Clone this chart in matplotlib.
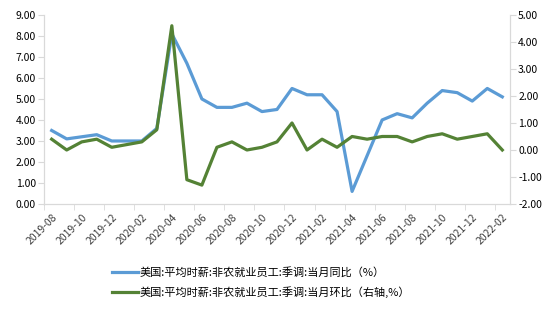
import numpy as np
import matplotlib
matplotlib.use('Agg')
import matplotlib.pyplot as plt

plt.rcParams['font.family'] = ['Noto Sans CJK SC', 'DejaVu Sans']

months = ["2019-08", "2019-09", "2019-10", "2019-11", "2019-12", "2020-01", "2020-02",
          "2020-03", "2020-04", "2020-05", "2020-06", "2020-07", "2020-08", "2020-09",
          "2020-10", "2020-11", "2020-12", "2021-01", "2021-02", "2021-03", "2021-04",
          "2021-05", "2021-06", "2021-07", "2021-08", "2021-09", "2021-10", "2021-11",
          "2021-12", "2022-01", "2022-02"]

# YoY (left axis)
yoy = [3.5, 3.1, 3.2, 3.3, 3.0, 3.0, 3.0, 3.6, 8.1, 6.7, 5.0, 4.6, 4.6, 4.8, 4.4, 4.5,
       5.5, 5.2, 5.2, 4.4, 0.6, 2.3, 4.0, 4.3, 4.1, 4.8, 5.4, 5.3, 4.9, 5.5, 5.1]
# MoM (right axis)
mom = [0.4, 0.0, 0.3, 0.4, 0.1, 0.2, 0.3, 0.75, 4.6, -1.1, -1.3, 0.1, 0.3, 0.0, 0.1, 0.3,
       1.0, 0.0, 0.4, 0.1, 0.5, 0.4, 0.5, 0.5, 0.3, 0.5, 0.6, 0.4, 0.5, 0.6, 0.0]

label_yoy = "美国:平均时薪:非农就业员工:季调:当月同比（%）"
label_mom = "美国:平均时薪:非农就业员工:季调:当月环比（右轴,%）"

blue = '#5B9BD5'
green = '#548235'
grey = '#D9D9D9'
txt = '#404040'

fig = plt.figure(figsize=(5.59, 3.11), dpi=100)
ax = fig.add_axes([0.079, 0.344, 0.833, 0.608])
ax2 = ax.twinx()

x = np.arange(len(months))
l1, = ax.plot(x, yoy, color=blue, lw=2.3, label=label_yoy)
l2, = ax2.plot(x, mom, color=green, lw=2.3, label=label_mom)
ax2.set_zorder(ax.get_zorder() + 1)
ax2.patch.set_visible(False)

ax.set_xlim(-0.5, len(months) - 0.5)
ax.set_ylim(0, 9)
ax.set_yticks(np.arange(0, 9.01, 1))
ax.set_yticklabels(["%.2f" % v for v in np.arange(0, 9.01, 1)])
ax2.set_ylim(-2, 5)
ax2.set_yticks(np.arange(-2, 5.01, 1))
ax2.set_yticklabels(["%.2f" % v for v in np.arange(-2, 5.01, 1)])

ax.set_xticks(x[::2])
ax.set_xticklabels(months[::2], rotation=45, ha='right', rotation_mode='anchor')
ax.set_xticks(np.arange(-0.5, len(months) - 1, 2), minor=True)
ax.tick_params(axis='x', which='major', length=0, pad=6, labelsize=7.5, labelcolor=txt)
ax.tick_params(axis='x', which='minor', length=4, color=grey)
ax.tick_params(axis='y', length=4, color=grey, labelsize=7.5, labelcolor='#000000', pad=2)
ax2.tick_params(axis='y', length=4, color=grey, labelsize=7.5, labelcolor='#000000', pad=2)

for a in (ax, ax2):
    for s in a.spines.values():
        s.set_color(grey)
    a.spines['top'].set_visible(False)

fig.legend(handles=[l1, l2], loc='center', bbox_to_anchor=(0.467, 0.093),
           ncol=1, frameon=False, fontsize=8, handlelength=2.3, handletextpad=0.1,
           labelspacing=0.75, labelcolor='#000000')

fig.savefig('out.png', dpi=100)
